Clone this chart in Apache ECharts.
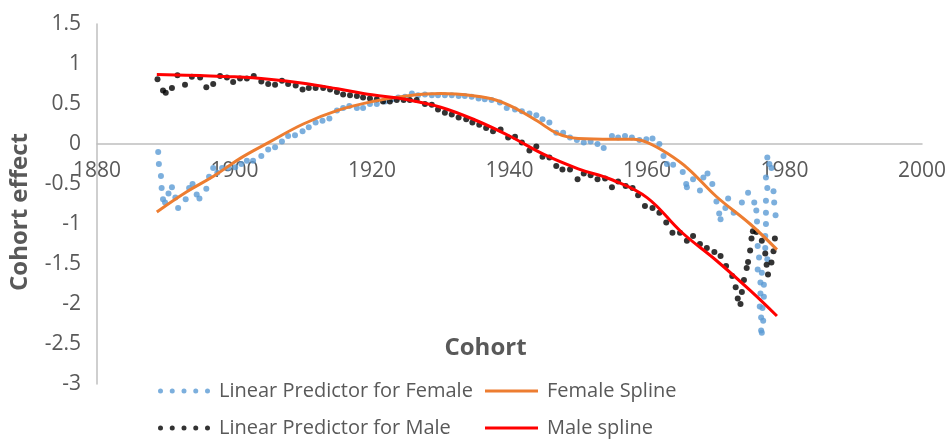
<!DOCTYPE html>
<html>
<head>
<meta charset="utf-8">
<script src="https://cdn.jsdelivr.net/npm/echarts@6/dist/echarts.min.js"></script>
<style>
  html, body { margin: 0; padding: 0; background: #fff; }
  #chart { width: 949px; height: 441px; }
</style>
</head>
<body>
<div id="chart"></div>
<script>
  // cohort (x) and effect (y)
  const femaleLP = [
    [1888.9, -0.10], [1889.0, -0.25], [1889.3, -0.40], [1889.4, -0.55], [1889.6, -0.69], [1889.9, -0.73],
    [1890.4, -0.62], [1890.9, -0.54], [1891.4, -0.67], [1891.8, -0.80], [1892.9, -0.69], [1893.4, -0.55],
    [1893.9, -0.50], [1894.5, -0.63], [1894.9, -0.68], [1895.9, -0.56], [1896.3, -0.41], [1896.9, -0.30],
    [1897.5, -0.36], [1898.2, -0.30], [1899.1, -0.30], [1900.1, -0.29], [1901.0, -0.25], [1901.8, -0.21],
    [1902.7, -0.21], [1903.9, -0.15], [1904.9, -0.07], [1905.9, -0.04], [1906.9, 0.03], [1907.8, 0.10],
    [1908.8, 0.11], [1909.9, 0.16], [1910.8, 0.21], [1911.8, 0.27], [1912.8, 0.29], [1913.8, 0.32],
    [1914.9, 0.42], [1915.8, 0.45], [1916.7, 0.475], [1917.8, 0.45], [1918.7, 0.45], [1919.7, 0.50],
    [1920.7, 0.50], [1921.9, 0.53], [1922.9, 0.56], [1923.8, 0.58], [1924.8, 0.59], [1925.8, 0.63],
    [1926.7, 0.61], [1927.7, 0.62], [1928.7, 0.61], [1929.6, 0.61], [1930.6, 0.61], [1931.6, 0.61],
    [1932.6, 0.60], [1933.5, 0.60], [1934.5, 0.59], [1935.5, 0.57], [1936.4, 0.56], [1937.4, 0.55],
    [1938.6, 0.52], [1939.6, 0.45], [1940.8, 0.43], [1941.8, 0.41], [1942.9, 0.38], [1943.9, 0.36],
    [1944.8, 0.31], [1945.8, 0.27], [1946.8, 0.14], [1947.8, 0.14], [1948.8, 0.08], [1949.8, 0.05],
    [1950.8, 0.02], [1951.8, 0.03], [1952.8, 0.00], [1953.7, -0.05], [1954.9, 0.10], [1955.8, 0.08],
    [1956.8, 0.10], [1957.8, 0.08], [1958.9, 0.05], [1959.9, 0.06], [1960.8, 0.07], [1961.8, 0.00],
    [1962.4, -0.15], [1962.9, -0.25], [1963.8, -0.26], [1965.2, -0.35], [1965.7, -0.50], [1965.8, -0.54],
    [1966.7, -0.44], [1967.7, -0.58], [1968.2, -0.42], [1968.8, -0.37], [1969.5, -0.50], [1970.1, -0.72],
    [1970.5, -0.87], [1970.7, -0.94], [1971.4, -0.80], [1971.8, -0.68], [1972.6, -0.86], [1973.8, -0.73],
    [1974.7, -0.61], [1975.6, -0.73], [1975.9, -0.83], [1976.0, -0.97], [1976.1, -1.275], [1976.3, -1.42],
    [1976.1, -1.57], [1976.7, -1.61], [1976.5, -1.73], [1977.0, -1.76], [1976.5, -1.87], [1977.0, -1.91],
    [1976.4, -2.03], [1976.8, -2.05], [1976.6, -2.17], [1976.9, -2.21], [1976.6, -2.33], [1976.7, -2.36],
    [1977.5, -0.17], [1977.8, -0.25], [1978.1, -0.30], [1977.3, -0.42], [1977.5, -0.55], [1978.4, -0.59],
    [1977.3, -0.71], [1978.5, -0.73], [1977.3, -0.86], [1978.7, -0.89], [1977.3, -1.00], [1977.2, -1.15],
    [1977.2, -1.30], [1977.5, -1.44]
  ];
  const maleLP = [
    [1888.8, 0.81], [1889.6, 0.67], [1890.0, 0.64], [1890.9, 0.70], [1891.7, 0.86], [1892.8, 0.74],
    [1893.8, 0.84], [1895.0, 0.83], [1895.9, 0.71], [1896.9, 0.75], [1897.9, 0.85], [1898.9, 0.83],
    [1899.8, 0.775], [1900.8, 0.82], [1901.8, 0.82], [1902.8, 0.85], [1903.9, 0.78], [1904.9, 0.75],
    [1905.9, 0.74], [1906.9, 0.79], [1907.8, 0.75], [1908.9, 0.73], [1909.9, 0.68], [1910.8, 0.70],
    [1911.8, 0.70], [1912.9, 0.70], [1913.9, 0.68], [1914.9, 0.65], [1915.8, 0.62], [1916.8, 0.61],
    [1917.8, 0.60], [1918.7, 0.58], [1919.7, 0.57], [1920.7, 0.56], [1921.6, 0.53], [1922.6, 0.53],
    [1923.6, 0.55], [1924.6, 0.55], [1925.5, 0.55], [1926.5, 0.55], [1927.7, 0.50], [1928.7, 0.49],
    [1929.6, 0.43], [1930.6, 0.39], [1931.6, 0.37], [1932.6, 0.33], [1933.7, 0.31], [1934.6, 0.27],
    [1935.6, 0.24], [1936.6, 0.20], [1937.6, 0.16], [1938.7, 0.18], [1939.8, 0.08], [1940.8, 0.09],
    [1941.8, 0.02], [1942.9, -0.08], [1943.9, -0.03], [1944.8, -0.16], [1945.8, -0.17], [1946.8, -0.275],
    [1947.7, -0.32], [1948.8, -0.32], [1949.9, -0.44], [1950.8, -0.37], [1951.8, -0.39], [1952.8, -0.44],
    [1953.9, -0.43], [1954.9, -0.54], [1955.8, -0.47], [1956.9, -0.525], [1957.9, -0.55], [1958.7, -0.64],
    [1959.7, -0.775], [1960.8, -0.80], [1961.8, -0.86], [1962.8, -0.98], [1963.7, -1.11], [1964.8, -1.11],
    [1965.8, -1.21], [1966.7, -1.15], [1967.7, -1.25], [1968.7, -1.30], [1969.8, -1.35], [1970.7, -1.40],
    [1971.5, -1.525], [1972.4, -1.65], [1972.9, -1.79], [1973.2, -1.93], [1973.6, -2.00], [1973.8, -1.85],
    [1974.1, -1.70], [1974.5, -1.55], [1974.7, -1.475], [1975.0, -1.33], [1975.2, -1.18], [1975.4, -1.09],
    [1975.9, -1.10], [1976.7, -1.21], [1977.2, -1.37], [1977.4, -1.51], [1977.6, -1.63], [1978.1, -1.48],
    [1978.4, -1.34], [1978.6, -1.18]
  ];
  const femaleSpline = [
    [1888.7, -0.85], [1893, -0.60], [1897, -0.40], [1901, -0.17], [1905, 0.02], [1910, 0.25],
    [1915, 0.42], [1920, 0.53], [1925, 0.60], [1930, 0.63], [1935, 0.60], [1938, 0.55],
    [1941, 0.44], [1944, 0.29], [1947, 0.13], [1950, 0.07], [1955, 0.06], [1958, 0.06],
    [1960, 0.02], [1963, -0.12], [1966, -0.31], [1970, -0.65], [1975, -1.00], [1978.9, -1.32]
  ];
  const maleSpline = [
    [1888.7, 0.87], [1895, 0.855], [1900, 0.84], [1905, 0.81], [1910, 0.76], [1915, 0.69],
    [1920, 0.615], [1925, 0.555], [1930, 0.46], [1935, 0.30], [1940, 0.10], [1945, -0.13],
    [1950, -0.31], [1955, -0.45], [1960, -0.67], [1965, -1.10], [1970, -1.45], [1975, -1.83],
    [1978.9, -2.15]
  ];
  const seriesNames = ['Linear Predictor for Female', 'Female Spline', 'Linear Predictor for Male', 'Male spline'];

  const font = 'Open Sans';
  const grey = '#595959';
  const dots = 'path://M0,2.5a2.5,2.5 0 1,0 5,0a2.5,2.5 0 1,0 -5,0' +
    'M11.75,2.5a2.5,2.5 0 1,0 5,0a2.5,2.5 0 1,0 -5,0' +
    'M23.5,2.5a2.5,2.5 0 1,0 5,0a2.5,2.5 0 1,0 -5,0' +
    'M35.25,2.5a2.5,2.5 0 1,0 5,0a2.5,2.5 0 1,0 -5,0' +
    'M47,2.5a2.5,2.5 0 1,0 5,0a2.5,2.5 0 1,0 -5,0';

  const myChart = echarts.init(document.getElementById('chart'));
  const legendText = { fontFamily: font, fontSize: 20, color: grey, lineHeight: 20, padding: [0, 0, 0, 4] };
  const option = {
    animation: false,
    grid: { left: 97, right: 27, top: 24, bottom: 57, containLabel: false, outerBoundsMode: 'none' },
    legend: [
      {
        orient: 'vertical', left: 158, top: 381, padding: 0, itemGap: 17,
        itemWidth: 52, itemHeight: 5, icon: dots,
        data: [seriesNames[0], seriesNames[2]],
        textStyle: legendText
      },
      {
        orient: 'vertical', left: 485, top: 381, padding: 0, itemGap: 17,
        itemWidth: 53, itemHeight: 3, icon: 'rect',
        data: [seriesNames[1], seriesNames[3]],
        textStyle: legendText
      }
    ],
    xAxis: {
      type: 'value', min: 1880, max: 2000, interval: 20,
      position: 'bottom', offset: -240,
      name: 'Cohort', nameLocation: 'middle', nameGap: 192,
      nameTextStyle: { fontFamily: font, fontSize: 24, fontWeight: 'bold', color: grey, padding: [0, 48, 0, 0] },
      axisLine: { onZero: false, lineStyle: { color: '#BFBFBF', width: 1.5 } },
      axisTick: { show: false },
      splitLine: { show: false },
      axisLabel: { fontFamily: font, fontSize: 21, color: grey, margin: 17, formatter: v => String(v) }
    },
    yAxis: {
      type: 'value', min: -3, max: 1.5, interval: 0.5,
      name: 'Cohort effect', nameLocation: 'middle', nameGap: 65, nameRotate: 90,
      nameTextStyle: { fontFamily: font, fontSize: 24, fontWeight: 'bold', color: grey, padding: [0, 16, 0, 0] },
      axisLine: { show: true, lineStyle: { color: '#BFBFBF', width: 1.5 } },
      axisTick: { show: false },
      splitLine: { show: false },
      axisLabel: { fontFamily: font, fontSize: 21, color: grey, margin: 16 }
    },
    series: [
      {
        name: seriesNames[0], type: 'scatter', data: femaleLP,
        symbolSize: 6, itemStyle: { color: '#5B9BD5' }
      },
      {
        name: seriesNames[1], type: 'line', data: femaleSpline, smooth: 0.4,
        showSymbol: false, lineStyle: { color: '#ED7D31', width: 3 }, itemStyle: { color: '#ED7D31' }
      },
      {
        name: seriesNames[2], type: 'scatter', data: maleLP,
        symbolSize: 6, itemStyle: { color: '#000000' }
      },
      {
        name: seriesNames[3], type: 'line', data: maleSpline, smooth: 0.4,
        showSymbol: false, lineStyle: { color: '#FF0000', width: 3 }, itemStyle: { color: '#FF0000' }
      }
    ]
  };
  myChart.setOption(option);
</script>
</body>
</html>
